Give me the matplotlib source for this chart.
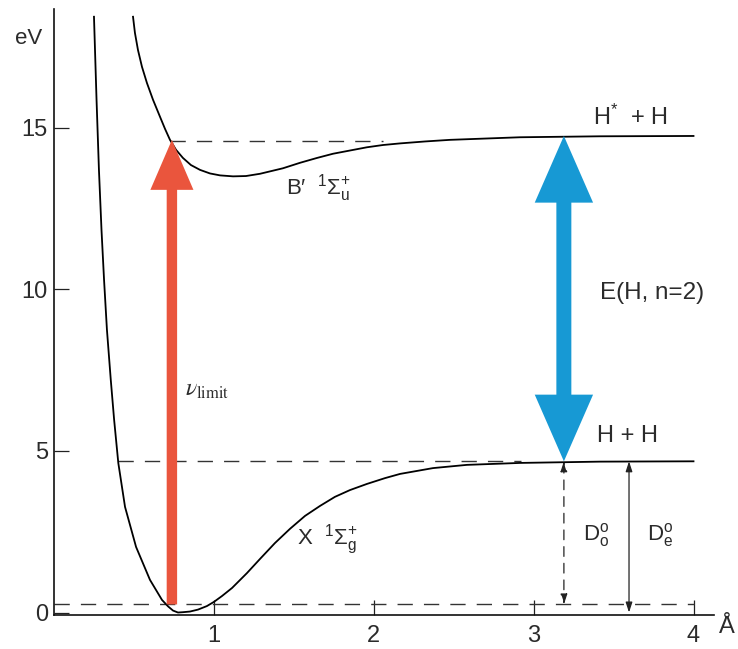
import matplotlib
matplotlib.use('Agg')
import matplotlib.pyplot as plt
from matplotlib.patches import FancyArrowPatch

plt.rcParams['font.family'] = ['Liberation Sans', 'DejaVu Sans']
plt.rcParams['mathtext.fontset'] = 'custom'
plt.rcParams['mathtext.rm'] = 'Liberation Sans'
plt.rcParams['mathtext.it'] = 'Liberation Sans:italic'
plt.rcParams['mathtext.sf'] = 'Liberation Sans'
plt.rcParams['lines.scale_dashes'] = False

# ---------------- data ----------------
# ground state X 1Sigma_g+ : internuclear distance (Å) and energy (eV)
x_state_r = [0.253, 0.269, 0.284, 0.300, 0.316, 0.334, 0.358, 0.379, 0.405,
             0.447, 0.516, 0.603, 0.678, 0.716, 0.747, 0.778, 0.809, 0.853,
             0.903, 0.959, 1.003, 1.053, 1.116, 1.209, 1.291, 1.384, 1.478,
             1.572, 1.666, 1.759, 1.853, 1.959, 2.072, 2.166, 2.372, 2.584,
             2.916, 3.416, 4.0]
x_state_e = [18.44, 15.87, 13.70, 11.84, 10.29, 8.75, 7.20, 5.96, 4.63,
             3.27, 2.03, 1.01, 0.39, 0.19, 0.06, 0.0, 0.01, 0.03,
             0.09, 0.20, 0.33, 0.51, 0.76, 1.22, 1.66, 2.15, 2.59,
             2.99, 3.30, 3.58, 3.79, 3.98, 4.16, 4.29, 4.47, 4.57,
             4.63, 4.67, 4.68]

# excited state B' 1Sigma_u+
b_state_r = [0.497, 0.509, 0.528, 0.553, 0.584, 0.622, 0.666, 0.697, 0.728,
             0.766, 0.809, 0.859, 0.916, 0.978, 1.041, 1.122, 1.203, 1.291,
             1.434, 1.541, 1.647, 1.747, 1.853, 1.959, 2.059, 2.166, 2.322,
             2.478, 2.697, 2.916, 3.416, 4.0]
b_state_e = [18.44, 17.94, 17.41, 16.89, 16.39, 15.87, 15.34, 14.97, 14.63,
             14.32, 14.07, 13.85, 13.70, 13.59, 13.53, 13.50, 13.51, 13.58,
             13.75, 13.92, 14.07, 14.20, 14.30, 14.40, 14.47, 14.52, 14.58,
             14.63, 14.67, 14.71, 14.74, 14.75]

zero_point = 0.25        # eV, v=0 level
dissoc_level = 4.68      # eV, H + H
upper_level = 14.58      # eV, dashed level at B' wall
excited_limit = 14.75    # eV, H* + H

zpe_span = [0.0, 4.0]
dissoc_span = [0.405, 2.92]
upper_span = [0.728, 2.06]

nu_limit_r = 0.74
e_arrow_r = 3.19
de_arrow_r = 3.597

xticks = [1, 2, 3, 4]
xtick_labels = ['1', '2', '3', '4']
yticks = [0, 5, 10, 15]
ytick_labels = ['0', '5', '10', '15']

# ---------------- figure ----------------
fig = plt.figure(figsize=(7.38, 6.49), dpi=100)
ax = fig.add_axes([53.5 / 738, 34 / 649, 660 / 738, 606 / 649])
ax.set_xlim(0, 4.125)
ax.set_ylim(-0.077, 18.68)

txt = '#2b2b2b'
for s in ['top', 'right']:
    ax.spines[s].set_visible(False)
for s in ['left', 'bottom']:
    ax.spines[s].set_linewidth(1.2)
    ax.spines[s].set_color('#111111')

ax.set_xticks(xticks)
ax.set_xticklabels(xtick_labels)
ax.set_yticks(yticks)
ax.set_yticklabels(ytick_labels)
ax.tick_params(axis='both', direction='in', length=10.5, width=0.9,
               color='#222222', labelsize=17, labelcolor=txt)
ax.tick_params(axis='x', pad=7)
ax.tick_params(axis='y', pad=4)

# curves
ax.plot(x_state_r, x_state_e, color='black', lw=1.3, zorder=3,
        solid_joinstyle='round')
ax.plot(b_state_r, b_state_e, color='black', lw=1.3, zorder=3,
        solid_joinstyle='round')

# dashed levels
dash = (0, (11, 8))
ax.plot(zpe_span, [zero_point, zero_point], color='#333333', lw=1.0, ls=dash, zorder=2)
ax.plot(dissoc_span, [dissoc_level, dissoc_level], color='#333333', lw=1.0, ls=dash, zorder=2)
ax.plot(upper_span, [upper_level, upper_level], color='#333333', lw=1.0, ls=dash, zorder=2)

# red nu_limit arrow
red = '#EA553D'
ax.add_patch(FancyArrowPatch((nu_limit_r, zero_point), (nu_limit_r, upper_level + 0.05),
                             arrowstyle='simple,head_length=36,head_width=31,tail_width=7.5',
                             mutation_scale=1, color=red, lw=0, shrinkA=0, shrinkB=0,
                             zorder=4))

# blue double arrow E(H, n=2): two full-length arrows in opposite directions
blue = '#1799D4'
for start, end in ((dissoc_level + 1.0, excited_limit), (excited_limit - 1.0, dissoc_level)):
    ax.add_patch(FancyArrowPatch((e_arrow_r, start), (e_arrow_r, end),
                                 arrowstyle='simple,head_length=48,head_width=42,tail_width=10.5',
                                 mutation_scale=1, color=blue, lw=0, shrinkA=0, shrinkB=0,
                                 zorder=4))

# D0 (dashed) and De (solid) arrows
ax.annotate('', xy=(e_arrow_r, zero_point), xytext=(e_arrow_r, dissoc_level),
            arrowprops=dict(arrowstyle='<|-|>,head_length=0.55,head_width=0.18',
                            mutation_scale=11, lw=0.9, color='#222222',
                            ls=(0, (7, 5)), shrinkA=0, shrinkB=0), zorder=3)
ax.annotate('', xy=(de_arrow_r, 0.0), xytext=(de_arrow_r, dissoc_level),
            arrowprops=dict(arrowstyle='<|-|>,head_length=0.55,head_width=0.18',
                            mutation_scale=11, lw=0.9, color='#222222',
                            shrinkA=0, shrinkB=0), zorder=3)

# labels
ax.text(-0.153, 17.76, 'eV', ha='center', va='center', fontsize=16, color=txt,
        clip_on=False)
ax.text(4.21, -0.45, 'Å', ha='center', va='center', fontsize=17, color=txt,
        clip_on=False)
ax.text(3.37, 15.34, r'H$^{*}$  + H', ha='left', va='center', fontsize=17, color=txt)
ax.text(1.45, 13.14, "B\u2032  " + r"$^{1}\Sigma^{+}_{\mathrm{u}}$", ha='left', va='center',
        fontsize=16, color=txt)
ax.text(3.74, 9.89, 'E(H, n=2)', ha='center', va='center', fontsize=17.5, color=txt)
ax.text(0.82, 6.9, r'$\nu_{\mathrm{limit}}$', ha='left', va='center', fontsize=17,
        color=txt, math_fontfamily='stix')
ax.text(3.59, 5.46, 'H + H', ha='center', va='center', fontsize=17, color=txt)
ax.text(1.52, 2.24, r"X  $^{1}\Sigma^{+}_{\mathrm{g}}$", ha='left', va='center',
        fontsize=16, color=txt)
ax.text(3.31, 2.4, r'$\mathrm{D}^{\mathrm{o}}_{\mathrm{o}}$', ha='left', va='center',
        fontsize=16, color=txt)
ax.text(3.71, 2.4, r'$\mathrm{D}^{\mathrm{o}}_{\mathrm{e}}$', ha='left', va='center',
        fontsize=16, color=txt)

fig.savefig('out.png', dpi=100)
